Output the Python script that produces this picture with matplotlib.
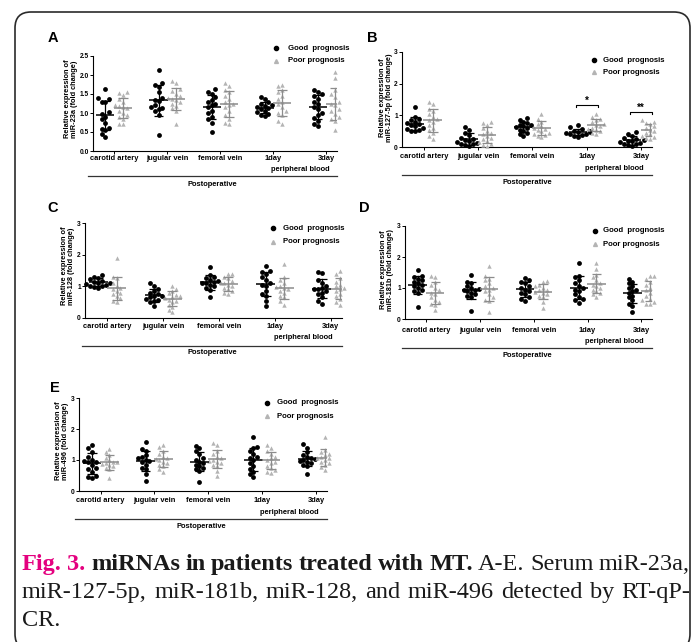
import numpy as np
import matplotlib
matplotlib.use("Agg")
import matplotlib.pyplot as plt
from matplotlib import transforms
from matplotlib.patches import FancyBboxPatch
from matplotlib.lines import Line2D

W, H, DPI = 697, 642, 100

CATEGORIES = ["carotid artery", "jugular vein", "femoral vein", "1day", "3day"]
SERIES = ["Good  prognosis", "Poor prognosis"]
GENES = ["miR-23a", "miR-127-5p", "miR-128", "miR-181b", "miR-496"]

# ---- Panel A : miR-23a ----
A_GOOD = [
    [1.62, 1.40, 1.38, 1.30, 1.28, 1.02, 0.98, 0.90, 0.85, 0.75, 0.60, 0.58, 0.55, 0.45, 0.38],
    [2.12, 1.80, 1.75, 1.68, 1.55, 1.40, 1.35, 1.32, 1.20, 1.15, 1.12, 1.10, 1.05, 0.95, 0.42],
    [1.62, 1.55, 1.50, 1.42, 1.35, 1.30, 1.25, 1.20, 1.15, 1.05, 1.00, 0.90, 0.85, 0.75, 0.50],
    [1.42, 1.38, 1.30, 1.25, 1.20, 1.18, 1.15, 1.12, 1.10, 1.05, 1.02, 0.98, 0.95, 0.92],
    [1.60, 1.55, 1.50, 1.45, 1.38, 1.30, 1.25, 1.15, 1.10, 1.00, 0.95, 0.88, 0.78, 0.70, 0.65],
]
A_POOR = [
    [1.55, 1.52, 1.48, 1.38, 1.30, 1.22, 1.18, 1.15, 1.12, 1.05, 1.00, 0.95, 0.90, 0.85, 0.72, 0.70],
    [1.85, 1.78, 1.62, 1.58, 1.50, 1.45, 1.40, 1.38, 1.35, 1.30, 1.25, 1.18, 1.12, 1.05, 0.70],
    [1.78, 1.72, 1.60, 1.55, 1.45, 1.38, 1.30, 1.25, 1.20, 1.15, 1.05, 0.95, 0.85, 0.75, 0.70],
    [1.75, 1.72, 1.60, 1.55, 1.45, 1.38, 1.30, 1.25, 1.15, 1.05, 1.00, 0.95, 0.80, 0.72],
    [2.08, 1.92, 1.60, 1.50, 1.42, 1.30, 1.25, 1.20, 1.10, 1.05, 0.98, 0.90, 0.85, 0.80, 0.55],
]
# ---- Panel B : miR-127-5p ----
B_GOOD = [
    [1.25, 0.95, 0.90, 0.85, 0.80, 0.75, 0.72, 0.70, 0.65, 0.60, 0.58, 0.55, 0.52, 0.50],
    [0.62, 0.55, 0.45, 0.38, 0.30, 0.25, 0.22, 0.20, 0.15, 0.12, 0.10, 0.08, 0.05, 0.02],
    [0.92, 0.85, 0.80, 0.75, 0.70, 0.68, 0.65, 0.62, 0.60, 0.55, 0.50, 0.45, 0.40, 0.35],
    [0.70, 0.62, 0.58, 0.52, 0.50, 0.48, 0.46, 0.44, 0.42, 0.40, 0.38, 0.35, 0.32],
    [0.48, 0.42, 0.35, 0.30, 0.25, 0.22, 0.20, 0.18, 0.15, 0.12, 0.10, 0.08, 0.05, 0.03],
]
B_POOR = [
    [1.42, 1.35, 1.20, 1.15, 1.05, 0.95, 0.90, 0.85, 0.80, 0.70, 0.60, 0.55, 0.45, 0.35, 0.25],
    [0.78, 0.75, 0.70, 0.60, 0.50, 0.45, 0.40, 0.35, 0.30, 0.25, 0.20, 0.15, 0.10, 0.05, 0.02],
    [1.05, 0.90, 0.80, 0.72, 0.65, 0.60, 0.58, 0.55, 0.50, 0.45, 0.42, 0.38, 0.35, 0.32],
    [1.05, 0.95, 0.90, 0.85, 0.78, 0.72, 0.70, 0.65, 0.60, 0.58, 0.55, 0.50, 0.45, 0.40],
    [0.85, 0.80, 0.75, 0.72, 0.65, 0.60, 0.55, 0.50, 0.45, 0.40, 0.35, 0.32, 0.28, 0.25],
]
B_SIG = [(3, "*", 1.33), (4, "**", 1.11)]
# ---- Panel C : miR-128 ----
C_GOOD = [
    [1.35, 1.30, 1.25, 1.22, 1.18, 1.15, 1.12, 1.10, 1.08, 1.05, 1.02, 1.00, 0.98, 0.95],
    [1.10, 1.00, 0.92, 0.85, 0.80, 0.75, 0.70, 0.68, 0.65, 0.60, 0.58, 0.55, 0.50, 0.38],
    [1.62, 1.35, 1.30, 1.25, 1.20, 1.18, 1.15, 1.12, 1.10, 1.05, 1.00, 0.95, 0.88, 0.65],
    [1.65, 1.50, 1.45, 1.40, 1.30, 1.20, 1.10, 1.05, 1.00, 0.85, 0.75, 0.70, 0.55, 0.38],
    [1.45, 1.42, 1.20, 1.10, 1.00, 0.95, 0.92, 0.90, 0.85, 0.80, 0.75, 0.65, 0.55, 0.45],
]
C_POOR = [
    [1.88, 1.28, 1.25, 1.10, 1.00, 0.95, 0.90, 0.85, 0.80, 0.75, 0.68, 0.62, 0.55, 0.50],
    [1.02, 0.90, 0.85, 0.78, 0.72, 0.68, 0.65, 0.62, 0.58, 0.55, 0.50, 0.42, 0.35, 0.25, 0.18],
    [1.40, 1.38, 1.30, 1.25, 1.18, 1.12, 1.10, 1.05, 1.00, 0.95, 0.90, 0.85, 0.80, 0.75],
    [1.72, 1.30, 1.20, 1.10, 1.02, 0.98, 0.95, 0.90, 0.85, 0.80, 0.70, 0.65, 0.55, 0.42],
    [1.50, 1.38, 1.25, 1.15, 1.05, 1.00, 0.95, 0.90, 0.85, 0.75, 0.68, 0.60, 0.50, 0.42],
]
# ---- Panel D : miR-181b ----
D_GOOD = [
    [1.58, 1.40, 1.35, 1.30, 1.25, 1.20, 1.15, 1.10, 1.05, 1.00, 0.95, 0.90, 0.85, 0.38],
    [1.42, 1.20, 1.15, 1.05, 1.00, 0.98, 0.95, 0.92, 0.90, 0.85, 0.80, 0.75, 0.70, 0.25],
    [1.32, 1.25, 1.20, 1.15, 1.05, 1.00, 0.95, 0.90, 0.85, 0.80, 0.72, 0.65, 0.58],
    [1.82, 1.40, 1.35, 1.25, 1.15, 1.05, 1.00, 0.95, 0.90, 0.80, 0.70, 0.65, 0.60, 0.52],
    [1.30, 1.20, 1.15, 1.05, 1.00, 0.95, 0.90, 0.85, 0.75, 0.70, 0.60, 0.50, 0.42, 0.22],
]
D_POOR = [
    [1.40, 1.35, 1.20, 1.10, 1.00, 0.92, 0.85, 0.80, 0.70, 0.62, 0.55, 0.50, 0.45, 0.30],
    [1.72, 1.40, 1.30, 1.25, 1.15, 1.05, 1.00, 0.95, 0.90, 0.80, 0.70, 0.62, 0.58, 0.22],
    [1.22, 1.18, 1.10, 1.05, 1.00, 0.95, 0.92, 0.88, 0.85, 0.80, 0.75, 0.70, 0.55, 0.35],
    [1.80, 1.62, 1.42, 1.35, 1.25, 1.15, 1.10, 1.05, 1.00, 0.95, 0.90, 0.85, 0.80, 0.72],
    [1.40, 1.38, 1.30, 1.20, 1.10, 1.00, 0.92, 0.85, 0.75, 0.65, 0.60, 0.55, 0.50, 0.48],
]
# ---- Panel E : miR-496 ----
E_GOOD = [
    [1.50, 1.38, 1.25, 1.10, 1.00, 0.98, 0.95, 0.92, 0.85, 0.75, 0.70, 0.62, 0.50, 0.45, 0.42],
    [1.58, 1.35, 1.30, 1.15, 1.10, 1.05, 1.00, 0.98, 0.95, 0.85, 0.75, 0.70, 0.55, 0.32],
    [1.45, 1.40, 1.30, 1.20, 1.05, 1.00, 0.95, 0.90, 0.85, 0.80, 0.75, 0.70, 0.65, 0.30],
    [1.75, 1.42, 1.38, 1.30, 1.20, 1.10, 1.05, 1.00, 0.90, 0.80, 0.70, 0.62, 0.55, 0.45],
    [1.52, 1.40, 1.25, 1.15, 1.10, 1.05, 1.02, 1.00, 0.98, 0.95, 0.90, 0.85, 0.80, 0.55],
]
E_POOR = [
    [1.35, 1.25, 1.15, 1.05, 1.00, 0.95, 0.92, 0.90, 0.88, 0.85, 0.80, 0.75, 0.70, 0.42],
    [1.48, 1.42, 1.30, 1.20, 1.10, 1.05, 1.02, 1.00, 0.95, 0.90, 0.85, 0.80, 0.70, 0.62],
    [1.55, 1.50, 1.30, 1.20, 1.10, 1.05, 1.00, 0.98, 0.95, 0.90, 0.85, 0.80, 0.65, 0.50],
    [1.48, 1.40, 1.30, 1.20, 1.10, 1.05, 1.00, 0.95, 0.90, 0.82, 0.75, 0.68, 0.62, 0.58],
    [1.75, 1.32, 1.25, 1.20, 1.15, 1.10, 1.08, 1.05, 1.00, 0.95, 0.90, 0.85, 0.78, 0.68],
]

CAPTION_L1 = [("Fig.", "pink"), ("3.", "pink"), ("miRNAs", "b"), ("in", "b"), ("patients", "b"),
              ("treated", "b"), ("with", "b"), ("MT.", "b"), ("A-E.", "r"), ("Serum", "r"),
              ("miR-23a,", "r")]
CAPTION_L2 = "miR-127-5p, miR-181b, miR-128, and miR-496 detected by RT-qP-"
CAPTION_L3 = "CR."

SANS = "Liberation Sans"
SERIF = "Liberation Serif"
GOOD_C, POOR_C, POOR_EC = "#000000", "#b4b4b4", "#8c8c8c"
OFF = 0.165

fig = plt.figure(figsize=(W / DPI, H / DPI), dpi=DPI)
fig.patch.set_facecolor("white")


def rect(l, t, r, b):
    return [l / W, 1 - b / H, (r - l) / W, (b - t) / H]


def fx(x):
    return x / W


def fy(y):
    return 1 - y / H


def swarm(vals, dy, d):
    order = np.argsort(vals)
    placed = []
    offs = np.zeros(len(vals))
    cands = [0, -d, d, -2 * d, 2 * d, -3 * d, 3 * d]
    for k in order:
        v = vals[k]
        c = 0
        for c in cands:
            ok = all(not (abs(v - pv) < dy and abs(c - po) < d * 0.9) for pv, po in placed)
            if ok:
                break
        offs[k] = c
        placed.append((v, c))
    return offs


PANELS = [
    dict(letter="A", lpos=(53, 38), box=(93, 56, 337, 151), ylim=(0, 2.5),
         yt=[0, 0.5, 1.0, 1.5, 2.0, 2.5], fmt="{:.1f}", gene=GENES[0],
         good=A_GOOD, poor=A_POOR, ylab=(71, 99), leg=(276, 48, 61, 288),
         rows=(159, 170, 176, 185), line_l=88),
    dict(letter="B", lpos=(372, 38), box=(402, 52, 652, 147), ylim=(0, 3),
         yt=[0, 1, 2, 3], fmt="{:.0f}", gene=GENES[1],
         good=B_GOOD, poor=B_POOR, ylab=(386, 98), leg=(594, 60, 72, 603),
         rows=(157, 168, 175, 183), line_l=402, sig=B_SIG),
    dict(letter="C", lpos=(53, 208), box=(85, 223, 342, 318), ylim=(0, 3),
         yt=[0, 1, 2, 3], fmt="{:.0f}", gene=GENES[2],
         good=C_GOOD, poor=C_POOR, ylab=(68, 266), leg=(273, 228, 242, 283),
         rows=(327, 338, 346, 353), line_l=82),
    dict(letter="D", lpos=(364, 208), box=(405, 226, 652, 319), ylim=(0, 3),
         yt=[0, 1, 2, 3], fmt="{:.0f}", gene=GENES[3],
         good=D_GOOD, poor=D_POOR, ylab=(387, 270), leg=(595, 231, 244, 603),
         rows=(331, 342, 348, 356), line_l=402),
    dict(letter="E", lpos=(55, 388), box=(79, 398, 327, 491), ylim=(0, 3),
         yt=[0, 1, 2, 3], fmt="{:.0f}", gene=GENES[4],
         good=E_GOOD, poor=E_POOR, ylab=(62, 441), leg=(267, 403, 416, 277),
         rows=(501, 512, 519, 527), line_l=75),
]

for P in PANELS:
    l, t, r, b = P["box"]
    ax = fig.add_axes(rect(l, t, r, b))
    ax.set_xlim(-0.4, 4.2)
    ax.set_ylim(*P["ylim"])
    ax.patch.set_alpha(0)
    for s in ["top", "right"]:
        ax.spines[s].set_visible(False)
    for s in ["left", "bottom"]:
        ax.spines[s].set_linewidth(0.8)
    ax.set_yticks(P["yt"])
    ax.set_yticklabels([P["fmt"].format(v) for v in P["yt"]], fontsize=4.8,
                       fontweight="bold", family=SANS)
    ax.set_xticks(range(len(CATEGORIES)))
    ax.set_xticklabels([])
    ax.tick_params(length=2, width=0.7, pad=1)

    ppu_y = (b - t) / (P["ylim"][1] - P["ylim"][0])
    ppu_x = (r - l) / 4.6
    dy = 4.6 / ppu_y
    dx = 3.9 / ppu_x
    for i in range(len(CATEGORIES)):
        for data, sign, col, ecol, mk, ms in [(P["good"], -1, GOOD_C, GOOD_C, "o", 12),
                                              (P["poor"], 1, POOR_C, POOR_EC, "^", 10)]:
            vals = np.asarray(data[i], dtype=float)
            cx = i + sign * OFF
            xs = cx + swarm(vals, dy, dx)
            ax.scatter(xs, vals, s=ms, c=col, marker=mk, linewidths=0, zorder=3, clip_on=False)
            m, sd = vals.mean(), vals.std(ddof=1)
            ax.plot([cx - 0.17, cx + 0.17], [m, m], color=ecol, lw=1.1, zorder=4,
                    solid_capstyle="butt")
            ax.plot([cx, cx], [m - sd, m + sd], color=ecol, lw=0.9, zorder=4)
            for yy in (m - sd, m + sd):
                ax.plot([cx - 0.09, cx + 0.09], [yy, yy], color=ecol, lw=0.9, zorder=4,
                        solid_capstyle="butt")

    for (gi, star, yb) in P.get("sig", []):
        hw = 0.2
        tick = 0.07
        ax.plot([gi - hw, gi - hw, gi + hw, gi + hw], [yb - tick, yb, yb, yb - tick],
                color="k", lw=0.8, clip_on=False)
        ax.text(gi, yb - 0.02, star, ha="center", va="bottom", fontsize=7,
                fontweight="bold", family=SANS)

    # category labels & bottom annotation
    tr = transforms.blended_transform_factory(ax.transData, fig.transFigure)
    cat_y, pb_y, line_y, post_y = P["rows"]
    for i, c in enumerate(CATEGORIES):
        ax.text(i, fy(cat_y), c, transform=tr, ha="center", va="center", fontsize=5.4,
                fontweight="bold", family=SANS)
    ax.text(3.5, fy(pb_y), "peripheral blood", transform=tr, ha="center", va="center",
            fontsize=5.4, fontweight="bold", family=SANS)
    fig.add_artist(Line2D([fx(P["line_l"]), fx(r)], [fy(line_y), fy(line_y)],
                          transform=fig.transFigure, color="#333333", lw=0.9))
    fig.text(fx((P["line_l"] + r) / 2), fy(post_y), "Postoperative", ha="center",
             va="center", fontsize=5.4, fontweight="bold", family=SANS)

    # y label
    fig.text(fx(P["ylab"][0]), fy(P["ylab"][1]),
             "Relative expression of\n" + P["gene"] + " (fold change)",
             rotation=90, ha="center", va="center", fontsize=5.3, fontweight="bold",
             family=SANS, linespacing=1.05, multialignment="center")

    # panel letter
    fig.text(fx(P["lpos"][0]), fy(P["lpos"][1]), P["letter"], ha="center", va="center",
             fontsize=10.5, fontweight="bold", family=SANS)

    # legend
    dxp, y1, y2, txp = P["leg"]
    fig.add_artist(Line2D([fx(dxp)], [fy(y1)], marker="o", ms=3.0, color=GOOD_C, lw=0,
                          transform=fig.transFigure))
    fig.add_artist(Line2D([fx(dxp)], [fy(y2)], marker="^", ms=2.8, color=POOR_C, lw=0,
                          transform=fig.transFigure))
    fig.text(fx(txp), fy(y1), SERIES[0], ha="left", va="center", fontsize=5.6,
             fontweight="bold", family=SANS)
    fig.text(fx(txp), fy(y2), SERIES[1], ha="left", va="center", fontsize=5.6,
             fontweight="bold", family=SANS)

# frame
frame = FancyBboxPatch((15, H - 650), 675, 638, boxstyle="round,pad=0,rounding_size=16",
                       transform=transforms.IdentityTransform(), fill=False,
                       ec="#2a2a2a", lw=1.2)
fig.add_artist(frame)

# caption (justified)
CAP_FS = 17.5
STYLES = {"pink": dict(color="#e4007f", fontweight="bold"),
          "b": dict(color="#1a1a1a", fontweight="bold"),
          "r": dict(color="#1a1a1a", fontweight="normal")}
fig.canvas.draw()
renderer = fig.canvas.get_renderer()


def place_line(words, y, x0, x1, justify=True):
    arts = []
    for w, st in words:
        t = fig.text(0, fy(y), w, ha="left", va="baseline", fontsize=CAP_FS, family=SERIF,
                     **STYLES[st])
        arts.append(t)
    widths = [a.get_window_extent(renderer).width for a in arts]
    if justify and len(arts) > 1:
        gap = (x1 - x0 - sum(widths)) / (len(arts) - 1)
    else:
        gap = 4.4
    x = x0
    for a, wd in zip(arts, widths):
        a.set_x(fx(x))
        x += wd + gap


place_line(CAPTION_L1, 570, 22, 690)
place_line([(w, "r") for w in CAPTION_L2.split(" ")], 598, 22, 690)
place_line([(CAPTION_L3, "r")], 626, 22, 690, justify=False)

fig.savefig("out.png", dpi=DPI, facecolor="white")
